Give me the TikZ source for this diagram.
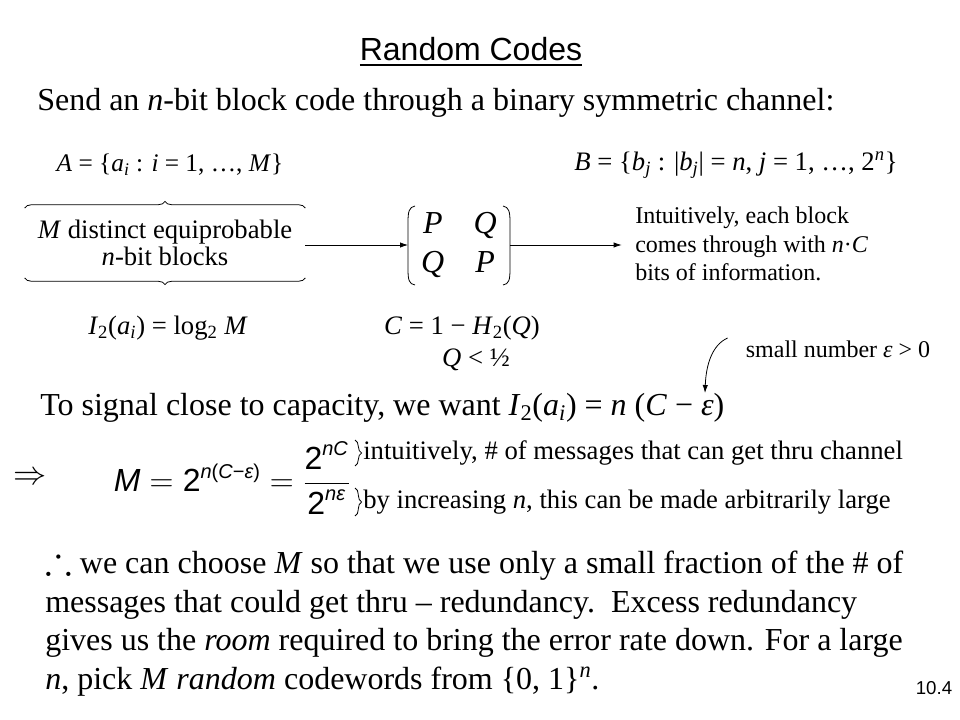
\documentclass[tikz,border=0pt]{standalone}
\usepackage{amsmath,amssymb}
\usepackage{fontspec}
\setmainfont{Liberation Serif}
\setsansfont{Liberation Sans}
\usetikzlibrary{decorations.pathreplacing,arrows.meta}
\newcommand{\ti}[1]{\textit{#1}}
\newcommand{\lo}[1]{\textsubscript{#1}}
\newcommand{\es}[1]{\text{\sffamily\itshape #1}}
\newcommand{\eu}[1]{\text{\sffamily #1}}
\newcommand{\ex}[1]{\text{\fontsize{15}{15}\selectfont\sffamily #1}}
\begin{document}
\begin{tikzpicture}
	[	x=0.75pt,y=-0.75pt,
	body/.style={font=\fontsize{24}{29}\selectfont,inner sep=0pt},
	small/.style={font=\fontsize{20}{20}\selectfont,inner sep=0pt},
	tiny/.style={font=\fontsize{18}{20}\selectfont,inner sep=0pt},
	head/.style={font=\sffamily\fontsize{24}{28}\selectfont,inner sep=0pt},
	link/.style={-{Latex[length=6pt,width=4pt]},line width=.6pt},
	curly/.style={decorate,decoration={brace,amplitude=5pt},line width=.6pt},
	curlyb/.style={decorate,decoration={brace,mirror,amplitude=5pt},line width=.6pt},
	paren/.style={line width=.6pt}
	]
	\useasboundingbox (0,0) rectangle (960,720);

	\node[head] (title) at (471,52) {\underline{Random Codes}};
	\node[body,anchor=west] (send) at (37,103) {Send an \ti{n}-bit block code through a binary symmetric channel:};

	\node[small,font=\fontsize{19}{20}\selectfont] (aset) at (170,165) {\ti{A} = \{\ti{a}\lo{\ti{i}} : \ti{i} = 1, …, \ti{M}\}};
	\node[small] (bset) at (736,165) {\ti{B} = \{\ti{b}\lo{\ti{j}} : |\ti{b}\lo{\ti{j}}| = \ti{n}, \ti{j} = 1, …, 2\textsuperscript{\ti{n}}\}};

	\node[small,align=center,minimum width=210pt,minimum height=52pt] (blocks) at (165,243) {\ti{M} distinct equiprobable\\\ti{n}-bit blocks};
	\draw[curly] (blocks.north west) -- (blocks.north east);
	\draw[curlyb] (blocks.south west) -- (blocks.south east);

	\node[body,minimum width=76pt] (chan) at (459,245) {\begin{tabular}{@{}c@{\hspace{22pt}}c@{}}\ti{P}&\ti{Q}\\\ti{Q}&\ti{P}\end{tabular}};
	\draw[paren] (415,206) .. controls (409,207) and (408,212) .. (408,222) -- (408,269) .. controls (408,280) and (409,284) .. (415,285);
	\draw[paren] (503,206) .. controls (509,207) and (510,212) .. (510,222) -- (510,269) .. controls (510,280) and (509,284) .. (503,285);

	\node[align=left,anchor=west,inner sep=0pt,font=\fontsize{18}{21.5}\selectfont] (info) at (635,244) {Intuitively, each block\\comes through with \ti{n}·\ti{C}\\bits of information.};
	\draw[link] (blocks.east |- chan) -- (chan);
	\draw[link,shorten >=10pt] (chan) -- (chan -| info.west);

	\node[small] (ival) at (168,328) {\ti{I}\lo{2}(\ti{a}\lo{\ti{i}}) = log\lo{2} \ti{M}};
	\node[small] (cap) at (462,328) {\ti{C} = 1 − \ti{H}\lo{2}(\ti{Q})};
	\node[small] (qhalf) at (476,360) {\ti{Q} < ½};
	\node[tiny] (eps) at (838,349) {small number \ti{ε} > 0};

	\node[body,anchor=west] (want) at (40,408) {To signal close to capacity, we want \ti{I}\lo{2}(\ti{a}\lo{\ti{i}}) = \ti{n} (\ti{C} − \ti{ε})};
	\coordinate (epstip) at (705,393);
	\draw[link] ([shift={(-18,-11)}]eps.west) .. controls (712,345) and (706,365) .. (epstip);

	\node[body] (imp) at (30,478) {$\Rightarrow$};
	\node[body] (eq) at (232,478) {$\es{M}=\eu{2}^{\ex{\itshape n\upshape(\itshape C\upshape−\itshape ε\upshape)}}=\dfrac{\eu{2}^{\ex{\itshape nC}}}{\eu{2}^{\ex{\itshape nε}}}$};
	\draw[curly] (355,440) -- (355,466);
	\draw[curly] (355,488) -- (355,516);
	\node[small,anchor=west] (thru) at (363,453) {intuitively, \# of messages that can get thru channel};
	\node[small,anchor=west] (large) at (363,502) {by increasing \ti{n}, this can be made arbitrarily large};

	\node[body,anchor=west,align=left] (para) at (45,621) {{\fontsize{30}{30}\selectfont$\therefore$} we can choose \ti{M} so that we use only a small fraction of the \# of\\messages that could get thru – redundancy.\ \ Excess redundancy\\gives us the \ti{room} required to bring the error rate down. For a large\\\ti{n}, pick \ti{M} \ti{random} codewords from \{0, 1\}\textsuperscript{\ti{n}}.};

	\node[font=\sffamily\fontsize{14}{16}\selectfont,inner sep=0pt] (num) at (934,688) {10.4};
\end{tikzpicture}
\end{document}
